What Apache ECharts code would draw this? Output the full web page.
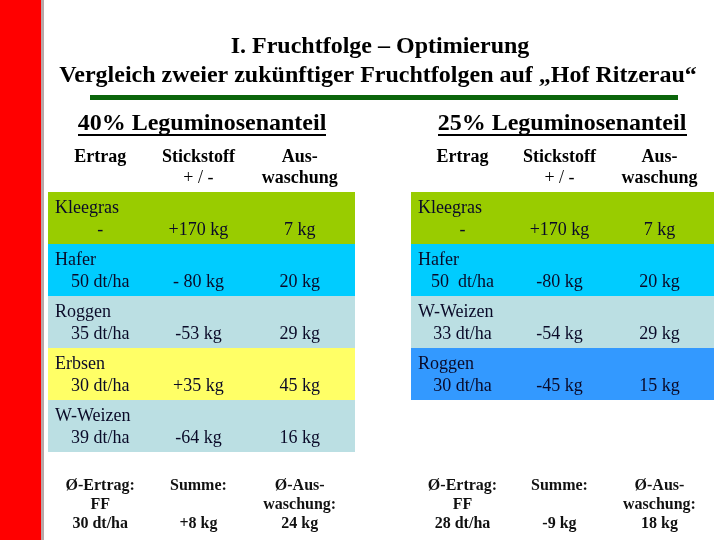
<!DOCTYPE html>
<html>
<head>
<meta charset="utf-8">
<script src="https://cdn.jsdelivr.net/npm/echarts@6/dist/echarts.min.js"></script>
<style>
    html, body { margin: 0; padding: 0; background: #fff; }
    #chart { width: 720px; height: 540px; }
</style>
</head>
<body>
<div id="chart"></div>
<script>
    // 40% Leguminosenanteil
    const cropsA = ['Kleegras', 'Hafer', 'Roggen', 'Erbsen', 'W-Weizen']
    const yieldA = ['-', '50 dt/ha', '35 dt/ha', '30 dt/ha', '39 dt/ha']
    const nitrogenA = ['+170 kg', '- 80 kg', '-53 kg', '+35 kg', '-64 kg']
    const leachingA = ['7 kg', '20 kg', '29 kg', '45 kg', '16 kg']
    const footerA = [['Ø-Ertrag:', 'FF', '30 dt/ha'], ['Summe:', '', '+8 kg'], ['Ø-Aus-', 'waschung:', '24 kg']]

    // 25% Leguminosenanteil
    const cropsB = ['Kleegras', 'Hafer', 'W-Weizen', 'Roggen']
    const yieldB = ['-', '50  dt/ha', '33 dt/ha', '30 dt/ha']
    const nitrogenB = ['+170 kg', '-80 kg', '-54 kg', '-45 kg']
    const leachingB = ['7 kg', '20 kg', '29 kg', '15 kg']
    const footerB = [['Ø-Ertrag:', 'FF', '28 dt/ha'], ['Summe:', '', '-9 kg'], ['Ø-Aus-', 'waschung:', '18 kg']]

    // Zeilenfarben (nur Stil)
    const rowColorsA = ['#99cc00', '#00ccff', '#bbdfe3', '#ffff66', '#bbdfe3']
    const rowColorsB = ['#99cc00', '#00ccff', '#bbdfe3', '#3399ff']

    const serif = '"Liberation Serif", "DejaVu Serif", serif'
    const colPos = [0.17, 0.49, 0.82] // Spaltenmitte als Anteil der Tabellenbreite
    const tableA = { left: 48, width: 307 }
    const tableB = { left: 411, width: 303 }

    const chart = echarts.init(document.getElementById('chart'))

    // eine Tabellenzeile zeichnen
    function makeRenderer(crops, yields, nitro, leach, colors) {
        return function (params, api) {
            const i = api.value(1)
            const cs = params.coordSys
            const mid = api.coord([0, i])[1]
            const h = api.size([0, 1])[1]
            const top = mid - h / 2
            const txt = (text, x, y, align) => ({
                type: 'text',
                style: {
                    text: text, x: x, y: y, align: align, verticalAlign: 'middle',
                    font: '18px ' + serif, fill: '#0a0a28'
                }
            })
            return {
                type: 'group',
                children: [
                    { type: 'rect', shape: { x: cs.x, y: top, width: cs.width, height: h }, style: { fill: colors[i] } },
                    txt(crops[i], cs.x + 7, top + 16, 'left'),
                    txt(yields[i], api.coord([colPos[0], i])[0], top + 38, 'center'),
                    txt(nitro[i], api.coord([colPos[1], i])[0], top + 38, 'center'),
                    txt(leach[i], api.coord([colPos[2], i])[0], top + 38, 'center')
                ]
            }
        }
    }

    function headerTexts(t) {
        const cx = colPos.map(p => t.left + p * t.width)
        const b = 'bold 18px ' + serif
        return [
            { type: 'text', x: cx[0], y: 157, style: { text: 'Ertrag', font: b, align: 'center', verticalAlign: 'middle', fill: '#000' } },
            { type: 'text', x: cx[1], y: 157, style: { text: 'Stickstoff', font: b, align: 'center', verticalAlign: 'middle', fill: '#000' } },
            { type: 'text', x: cx[1], y: 178, style: { text: '+ / -', font: '18px ' + serif, align: 'center', verticalAlign: 'middle', fill: '#000' } },
            { type: 'text', x: cx[2], y: 157, style: { text: 'Aus-', font: b, align: 'center', verticalAlign: 'middle', fill: '#000' } },
            { type: 'text', x: cx[2], y: 178, style: { text: 'waschung', font: b, align: 'center', verticalAlign: 'middle', fill: '#000' } }
        ]
    }

    function footerTexts(t, footer) {
        const out = []
        footer.forEach((lines, c) => {
            lines.forEach((s, k) => {
                if (!s) return
                out.push({
                    type: 'text', x: t.left + colPos[c] * t.width, y: 486 + k * 19,
                    style: { text: s, font: 'bold 16px ' + serif, align: 'center', verticalAlign: 'middle', fill: '#111' }
                })
            })
        })
        return out
    }

    const graphics = [
        // roter Balken links
        { type: 'rect', shape: { x: 0, y: 0, width: 41, height: 540 }, style: { fill: '#ff0000' } },
        { type: 'rect', shape: { x: 41, y: 0, width: 3, height: 540 }, style: { fill: '#b8a8a8' } },
        // Titel
        { type: 'text', x: 380, y: 47, style: { text: 'I. Fruchtfolge – Optimierung', font: 'bold 24px ' + serif, align: 'center', verticalAlign: 'middle', fill: '#000' } },
        { type: 'text', x: 378, y: 76, style: { text: 'Vergleich zweier zukünftiger Fruchtfolgen auf „Hof Ritzerau“', font: 'bold 24px ' + serif, align: 'center', verticalAlign: 'middle', fill: '#000' } },
        { type: 'rect', shape: { x: 90, y: 95, width: 588, height: 5 }, style: { fill: '#0b650b' } },
        // Untertitel
        { type: 'text', x: 202, y: 124, style: { text: '40% Leguminosenanteil', font: 'bold 24px ' + serif, align: 'center', verticalAlign: 'middle', fill: '#000' } },
        { type: 'rect', shape: { x: 78, y: 134, width: 248, height: 2 }, style: { fill: '#000' } },
        { type: 'text', x: 562, y: 124, style: { text: '25% Leguminosenanteil', font: 'bold 24px ' + serif, align: 'center', verticalAlign: 'middle', fill: '#000' } },
        { type: 'rect', shape: { x: 438, y: 134, width: 249, height: 2 }, style: { fill: '#000' } }
    ].concat(headerTexts(tableA), headerTexts(tableB), footerTexts(tableA, footerA), footerTexts(tableB, footerB))

    const option = {
        backgroundColor: '#fff',
        animation: false,
        grid: [
            { left: tableA.left, top: 192, width: tableA.width, height: 52 * cropsA.length },
            { left: tableB.left, top: 192, width: tableB.width, height: 52 * cropsB.length }
        ],
        xAxis: [
            { gridIndex: 0, type: 'value', min: 0, max: 1, show: false },
            { gridIndex: 1, type: 'value', min: 0, max: 1, show: false }
        ],
        yAxis: [
            { gridIndex: 0, type: 'category', data: cropsA, inverse: true, show: false },
            { gridIndex: 1, type: 'category', data: cropsB, inverse: true, show: false }
        ],
        series: [
            {
                type: 'custom', xAxisIndex: 0, yAxisIndex: 0,
                renderItem: makeRenderer(cropsA, yieldA, nitrogenA, leachingA, rowColorsA),
                data: cropsA.map((c, i) => [0, i])
            },
            {
                type: 'custom', xAxisIndex: 1, yAxisIndex: 1,
                renderItem: makeRenderer(cropsB, yieldB, nitrogenB, leachingB, rowColorsB),
                data: cropsB.map((c, i) => [0, i])
            }
        ],
        graphic: graphics
    }
    chart.setOption(option)
</script>
</body>
</html>
